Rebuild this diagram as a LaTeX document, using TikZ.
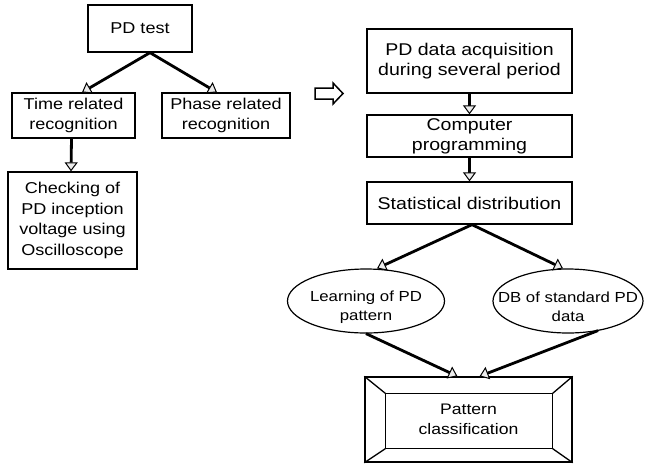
\documentclass[tikz,border=0pt]{standalone}
\usepackage{fontspec}
\setmainfont[FakeStretch=1.15]{Liberation Sans}
\usetikzlibrary{arrows.meta,shapes.geometric,calc}

\begin{document}
\begin{tikzpicture}[x=1pt,y=-1pt,
  lbl/.style={font=\fontsize{17}{20}\selectfont, align=center, inner sep=0pt},
  lbll/.style={font=\fontsize{15.7}{20.5}\selectfont, align=center, inner sep=0pt},
  lblo/.style={font=\fontsize{14.6}{18.5}\selectfont, align=center, inner sep=0pt},
  box/.style={draw, line width=1.3pt, rectangle},
  oval/.style={draw, line width=1.2pt, ellipse, inner sep=0pt},
  flow/.style={line width=2.8pt,
    -{Triangle[length=9pt, width=13pt, line width=1pt, fill=gray!15]}},
  bevel/.style={line width=1.3pt}]

\useasboundingbox (0,0) rectangle (645,464);

% left branch
\node[box, lbll, minimum width=104pt, minimum height=47pt] (pdtest) at (140,28.5) {PD test};
\node[box, lbll, minimum width=123pt, minimum height=45pt] (time) at (73.5,115.5) {Time related\\recognition};
\node[box, lbll, minimum width=128pt, minimum height=45pt] (phase) at (226,115.5) {Phase related\\recognition};
\node[box, lbll, minimum width=129pt, minimum height=97pt] (check) at (72.5,220.5)
  {Checking of\\PD inception\\voltage using\\Oscilloscope};

\draw[flow] ([xshift=10pt]pdtest.south) -- ([xshift=8.5pt]time.north);
\draw[flow] ([xshift=10pt]pdtest.south) -- ([xshift=-9pt]phase.north);
\draw[flow] ([xshift=-2pt]time.south) -- ([xshift=-1.5pt]check.north);

% hollow block arrow between the two procedures
\draw[line width=1.5pt] (315,88) -- (333,88) -- (333,83) -- (343,93.5)
  -- (333,104) -- (333,99) -- (315,99) -- cycle;

% right branch
\node[box, lbl, minimum width=205pt, minimum height=64pt] (acq) at (469.5,61)
  {PD data acquisition\\during several period};
\node[box, lbl, minimum width=205pt, minimum height=42pt] (prog) at (469.5,136)
  {Computer\\programming};
\node[box, lbl, minimum width=205pt, minimum height=42pt] (stat) at (469.5,203)
  {Statistical distribution};

% the two ovals keep a fixed size; their labels sit on top
\node[oval, minimum width=157pt, minimum height=64pt] (learn) at (366,301) {};
\node[lblo] (learntxt) at ([yshift=-6pt]learn.center) {Learning of PD\\pattern};
\node[oval, minimum width=150pt, minimum height=64pt] (db) at (568,301) {};
\node[lblo] (dbtxt) at ([yshift=-6pt]db.center) {DB of standard PD\\data};

\node[draw, line width=1.4pt, rectangle, minimum width=207pt, minimum height=85pt,
  font=\fontsize{15.3}{20}\selectfont, align=center, inner sep=0pt]
  (pat) at (468.5,419.5) {Pattern\\classification};

% bevelled frame around the last step
\coordinate (inw) at ($(pat.north west)+(21,17)$);
\coordinate (ine) at ($(pat.north east)+(-20,17)$);
\coordinate (ise) at ($(pat.south east)+(-20,-14)$);
\coordinate (isw) at ($(pat.south west)+(21,-14)$);
\draw[bevel] (inw) -- (ine) -- (ise) -- (isw) -- cycle;
\draw[bevel] (pat.north west) -- (inw);
\draw[bevel] (pat.north east) -- (ine);
\draw[bevel] (pat.south east) -- (ise);
\draw[bevel] (pat.south west) -- (isw);

\draw[flow] (acq.south) -- (prog.north);
\draw[flow] (prog.south) -- (stat.north);
\draw[flow] ([xshift=2.5pt]stat.south) -- ([xshift=11pt]learn.north);
\draw[flow] ([xshift=2.5pt]stat.south) -- ([xshift=-5pt]db.north);
\draw[flow] (learn.south) -- ([xshift=-11pt]pat.north);
\draw[flow] ([xshift=30pt,yshift=3pt]db.south) -- ([xshift=11pt]pat.north);

\end{tikzpicture}
\end{document}
